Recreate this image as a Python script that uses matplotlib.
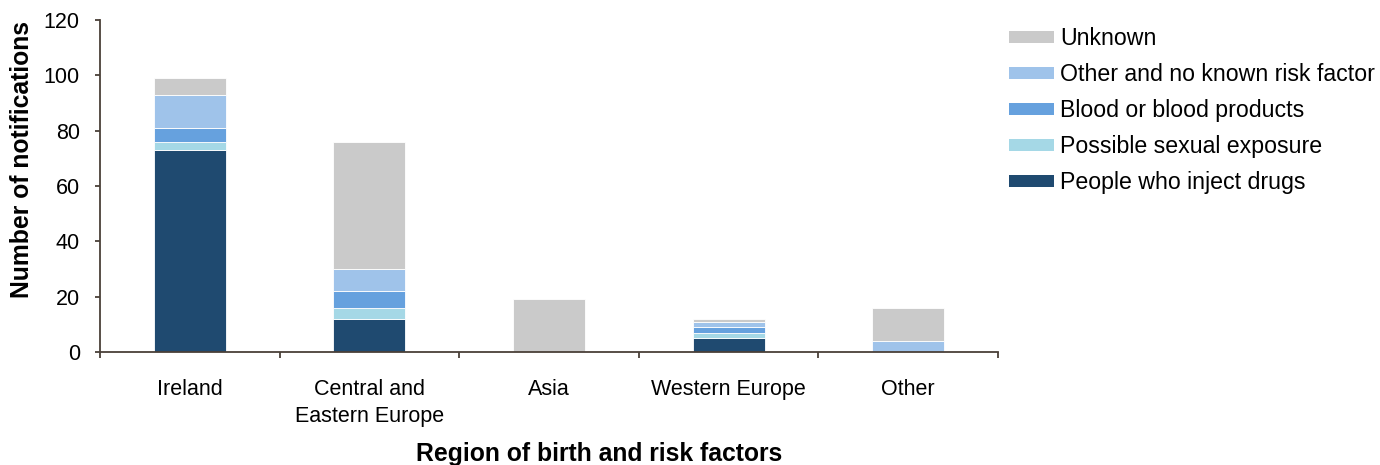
import matplotlib
matplotlib.use("Agg")
import matplotlib.pyplot as plt
import numpy as np
from matplotlib.patches import Patch

plt.rcParams['font.family'] = ['Liberation Sans', 'DejaVu Sans']

categories = ["Ireland", "Central and\nEastern Europe", "Asia", "Western Europe", "Other"]
series_names = ["People who inject drugs", "Possible sexual exposure", "Blood or blood products",
                "Other and no known risk factor", "Unknown"]
pwid = [73, 12, 0, 5, 0]
sexual = [3, 4, 0, 2, 0]
blood = [5, 6, 0, 2, 0]
other_nk = [12, 8, 0, 2, 4]
unknown = [6, 46, 19, 1, 12]
colors = ["#1F4A70", "#A5D8E6", "#66A1DE", "#9FC3EA", "#CACACA"]
yticks = [0, 20, 40, 60, 80, 100, 120]

series = [pwid, sexual, blood, other_nk, unknown]

fig = plt.figure(figsize=(13.8, 4.65), dpi=100)
ax = fig.add_axes([100/1380, 1-352/465, 898/1380, 332/465])

x = np.arange(len(categories))
bottom = np.zeros(len(categories))
handles = []
for name, vals, c in zip(series_names, series, colors):
    v = np.array(vals, dtype=float)
    ax.bar(x, v, width=0.4, bottom=bottom, color=c, edgecolor='white', linewidth=0.6)
    bottom += v
    handles.append(Patch(facecolor=c, edgecolor='none', label=name))

ax.set_xlim(-0.5, len(categories) - 0.5)
ax.set_ylim(0, 120)
ax.set_yticks(yticks)
spine_c = "#4A4038"
for s in ['top', 'right']:
    ax.spines[s].set_visible(False)
for s in ['left', 'bottom']:
    ax.spines[s].set_color(spine_c)
    ax.spines[s].set_linewidth(1.3)

ax.set_xticks(np.arange(-0.5, len(categories) + 0.5, 1.0))
ax.set_xticklabels([])
ax.set_xticks(x, minor=True)
ax.set_xticklabels(categories, minor=True, fontsize=15.5, linespacing=1.35)
ax.tick_params(axis='x', which='minor', length=0, pad=19.5)
ax.tick_params(axis='x', which='major', length=4.5, width=1.3, color=spine_c)
ax.tick_params(axis='y', length=3.5, width=1.3, color=spine_c, labelsize=15.5, pad=11)

ax.set_ylabel("Number of notifications", fontsize=17.8, fontweight='bold')
ax.yaxis.set_label_coords(-0.074, 0.581)
ax.set_xlabel("Region of birth and risk factors", fontsize=17.8, fontweight='bold')
ax.xaxis.set_label_coords(0.5557, -0.27)

fig.legend(handles[::-1], series_names[::-1], loc='upper left',
           bbox_to_anchor=(1009/1380, 1-27/465), frameon=False, fontsize=16.7,
           handlelength=1.95, handleheight=0.43, handletextpad=0.26,
           labelspacing=0.56, borderpad=0, borderaxespad=0)

fig.savefig("out.png", dpi=100)
